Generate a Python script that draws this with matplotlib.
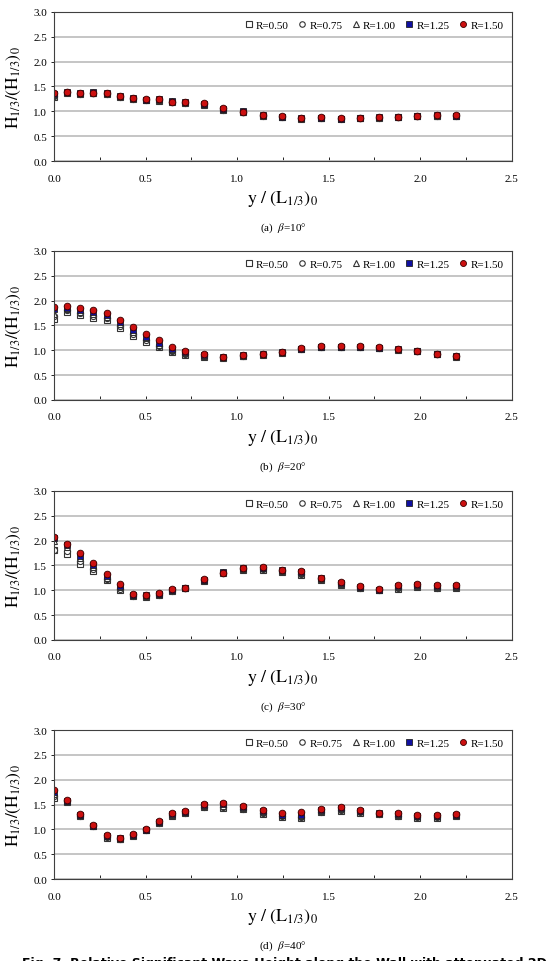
import matplotlib
matplotlib.use("Agg")
import matplotlib.pyplot as plt

plt.rcParams['font.family'] = ['Liberation Serif', 'DejaVu Serif']
plt.rcParams['mathtext.fontset'] = 'stix'

# measurement points along the wall, y/(L1/3)0
x = [0.0, 0.071, 0.143, 0.214, 0.286, 0.357, 0.429, 0.5, 0.571, 0.643, 0.714, 0.82, 0.925,
     1.03, 1.14, 1.245, 1.35, 1.46, 1.565, 1.67, 1.775, 1.88, 1.985, 2.09, 2.195]

r_labels = ["R=0.50", "R=0.75", "R=1.00", "R=1.25", "R=1.50"]

# beta = 10 deg
b10_050 = [1.28, 1.37, 1.35, 1.36, 1.35, 1.29, 1.25, 1.22, 1.21, 1.18, 1.17, 1.13, 1.03, 0.98, 0.91, 0.88, 0.85, 0.86, 0.85, 0.86, 0.87, 0.88, 0.90, 0.91, 0.90]
b10_075 = [1.31, 1.38, 1.35, 1.36, 1.35, 1.29, 1.25, 1.22, 1.22, 1.19, 1.17, 1.14, 1.03, 0.98, 0.91, 0.89, 0.86, 0.86, 0.85, 0.87, 0.87, 0.88, 0.90, 0.91, 0.91]
b10_100 = [1.33, 1.38, 1.36, 1.37, 1.36, 1.30, 1.26, 1.23, 1.23, 1.20, 1.18, 1.14, 1.04, 0.99, 0.92, 0.89, 0.86, 0.87, 0.86, 0.87, 0.88, 0.89, 0.90, 0.91, 0.91]
b10_125 = [1.35, 1.39, 1.37, 1.39, 1.37, 1.31, 1.27, 1.23, 1.24, 1.21, 1.19, 1.15, 1.04, 1.00, 0.92, 0.89, 0.86, 0.86, 0.85, 0.87, 0.88, 0.89, 0.90, 0.92, 0.91]
b10_150 = [1.37, 1.38, 1.36, 1.37, 1.36, 1.30, 1.26, 1.24, 1.25, 1.19, 1.18, 1.16, 1.06, 0.98, 0.93, 0.90, 0.87, 0.88, 0.86, 0.87, 0.88, 0.89, 0.91, 0.92, 0.92]

# beta = 20 deg
b20_050 = [1.64, 1.78, 1.72, 1.66, 1.61, 1.45, 1.29, 1.17, 1.07, 0.97, 0.91, 0.87, 0.85, 0.88, 0.91, 0.95, 1.02, 1.06, 1.06, 1.06, 1.04, 1.01, 0.98, 0.92, 0.87]
b20_075 = [1.69, 1.81, 1.75, 1.70, 1.65, 1.49, 1.33, 1.21, 1.09, 0.99, 0.93, 0.88, 0.86, 0.89, 0.92, 0.96, 1.02, 1.06, 1.07, 1.06, 1.04, 1.02, 0.99, 0.93, 0.88]
b20_100 = [1.74, 1.83, 1.78, 1.74, 1.68, 1.52, 1.37, 1.24, 1.11, 1.00, 0.94, 0.89, 0.86, 0.89, 0.92, 0.96, 1.03, 1.07, 1.07, 1.07, 1.05, 1.03, 0.99, 0.93, 0.88]
b20_125 = [1.84, 1.86, 1.81, 1.78, 1.72, 1.56, 1.41, 1.27, 1.14, 1.02, 0.96, 0.90, 0.87, 0.90, 0.93, 0.97, 1.03, 1.07, 1.07, 1.07, 1.05, 1.02, 0.98, 0.93, 0.88]
b20_150 = [1.88, 1.89, 1.85, 1.82, 1.76, 1.61, 1.47, 1.33, 1.20, 1.06, 0.98, 0.92, 0.87, 0.91, 0.93, 0.97, 1.04, 1.08, 1.08, 1.08, 1.06, 1.02, 0.98, 0.93, 0.89]

# beta = 30 deg
b30_050 = [1.82, 1.73, 1.53, 1.38, 1.20, 1.01, 0.88, 0.87, 0.90, 0.98, 1.04, 1.19, 1.34, 1.41, 1.40, 1.36, 1.31, 1.21, 1.10, 1.04, 1.00, 1.03, 1.07, 1.04, 1.05]
b30_075 = [1.82, 1.79, 1.58, 1.42, 1.22, 1.03, 0.89, 0.88, 0.91, 0.99, 1.04, 1.20, 1.35, 1.42, 1.42, 1.38, 1.33, 1.22, 1.12, 1.05, 1.00, 1.04, 1.08, 1.05, 1.06]
b30_100 = [2.00, 1.87, 1.65, 1.46, 1.25, 1.06, 0.90, 0.89, 0.92, 1.00, 1.04, 1.20, 1.36, 1.43, 1.44, 1.39, 1.35, 1.23, 1.13, 1.06, 1.00, 1.06, 1.09, 1.07, 1.07]
b30_125 = [2.05, 1.91, 1.70, 1.50, 1.28, 1.08, 0.91, 0.90, 0.93, 1.01, 1.05, 1.21, 1.36, 1.44, 1.45, 1.40, 1.36, 1.24, 1.15, 1.07, 1.01, 1.08, 1.10, 1.08, 1.08]
b30_150 = [2.08, 1.94, 1.76, 1.55, 1.32, 1.13, 0.93, 0.91, 0.94, 1.02, 1.05, 1.22, 1.35, 1.45, 1.47, 1.41, 1.38, 1.25, 1.17, 1.09, 1.02, 1.10, 1.12, 1.10, 1.10]

# beta = 40 deg
b40_050 = [1.64, 1.56, 1.26, 1.06, 0.83, 0.80, 0.87, 0.98, 1.12, 1.27, 1.32, 1.45, 1.43, 1.41, 1.31, 1.25, 1.23, 1.34, 1.37, 1.32, 1.31, 1.26, 1.23, 1.23, 1.27]
b40_075 = [1.68, 1.57, 1.27, 1.06, 0.84, 0.81, 0.88, 0.98, 1.13, 1.28, 1.33, 1.46, 1.45, 1.42, 1.33, 1.26, 1.25, 1.35, 1.39, 1.34, 1.31, 1.27, 1.24, 1.24, 1.28]
b40_100 = [1.72, 1.57, 1.28, 1.07, 0.86, 0.81, 0.88, 0.99, 1.14, 1.29, 1.34, 1.48, 1.48, 1.44, 1.35, 1.28, 1.27, 1.37, 1.41, 1.36, 1.32, 1.29, 1.26, 1.26, 1.29]
b40_125 = [1.76, 1.58, 1.29, 1.07, 0.87, 0.82, 0.89, 0.99, 1.15, 1.30, 1.35, 1.49, 1.51, 1.45, 1.36, 1.29, 1.28, 1.38, 1.43, 1.37, 1.32, 1.30, 1.27, 1.27, 1.29]
b40_150 = [1.80, 1.59, 1.30, 1.08, 0.89, 0.83, 0.90, 1.00, 1.16, 1.32, 1.37, 1.51, 1.54, 1.47, 1.39, 1.32, 1.34, 1.40, 1.46, 1.39, 1.32, 1.32, 1.29, 1.29, 1.31]

panels = [
    ("(a)", "10", [b10_050, b10_075, b10_100, b10_125, b10_150]),
    ("(b)", "20", [b20_050, b20_075, b20_100, b20_125, b20_150]),
    ("(c)", "30", [b30_050, b30_075, b30_100, b30_125, b30_150]),
    ("(d)", "40", [b40_050, b40_075, b40_100, b40_125, b40_150]),
]

# hollow square, hollow circle, hollow triangle, blue square, red circle
styles = [
    dict(marker="s", mfc="white", mec="#333333", ms=4.4, mew=0.8),
    dict(marker="o", mfc="white", mec="#333333", ms=4.4, mew=0.8),
    dict(marker="^", mfc="white", mec="#333333", ms=4.4, mew=0.8),
    dict(marker="s", mfc="#1010a0", mec="#222222", ms=4.4, mew=0.6),
    dict(marker="o", mfc="#cc1010", mec="#3a0000", ms=4.8, mew=0.6),
]

fig = plt.figure(figsize=(5.51, 9.62), dpi=100)
bottoms = [0.8316, 0.5832, 0.3337, 0.0852]

for (tag, beta, series), b in zip(panels, bottoms):
    ax = fig.add_axes([0.0985, b, 0.830, 0.1549])
    for vals, st, lab in zip(series, styles, r_labels):
        ax.plot(x, vals, ls="none", label=lab, **st)
    ax.set_xlim(0, 2.5)
    ax.set_ylim(0, 3.0)
    ax.set_xticks([0.0, 0.5, 1.0, 1.5, 2.0, 2.5])
    ax.set_xticks([0.25, 0.75, 1.25, 1.75, 2.25], minor=True)
    ax.set_yticks([0.0, 0.5, 1.0, 1.5, 2.0, 2.5, 3.0])
    ax.set_xticklabels(["%.1f" % t for t in ax.get_xticks()])
    ax.set_yticklabels(["%.1f" % t for t in ax.get_yticks()])
    ax.tick_params(axis="x", which="both", direction="in", length=3, width=0.6, labelsize=8, pad=9)
    ax.tick_params(axis="y", direction="out", length=2, width=0.6, labelsize=8, pad=3)
    ax.grid(axis="y", color="#c0c0c0", lw=1.3)
    ax.set_axisbelow(True)
    for sp in ax.spines.values():
        sp.set_color("#404040")
        sp.set_linewidth(0.8)
    ax.set_ylabel(r"$\mathrm{H_{1/3}/(H_{1/3})_0}$", fontsize=12.5)
    ax.yaxis.set_label_coords(-0.068, 0.5)
    ax.set_xlabel(r"$\mathrm{y\ /\ (L_{1/3})_0}$", fontsize=13, labelpad=4)
    ax.legend(loc="upper right", ncol=5, frameon=False, fontsize=8, handletextpad=0.15,
              columnspacing=0.7, handlelength=1.0, markerscale=0.9, borderaxespad=0.35)
    ax.text(0.5, -0.40, tag + "  " + r"$\mathit{\beta}$" + "=" + beta + "°", transform=ax.transAxes,
            ha="center", va="top", fontsize=8)

fig.text(0.04, 1 - 957 / 962, "Fig. 7  Relative Significant Wave Height along the Wall with attenuated 2D for 0%",
         ha="left", va="top", fontsize=9, fontweight="bold", family="DejaVu Sans")

fig.savefig("out.png", dpi=100)
